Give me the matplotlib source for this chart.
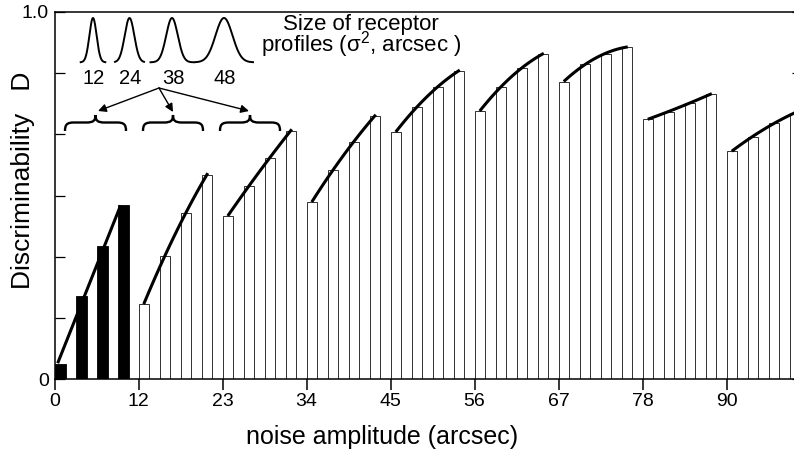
import numpy as np
import matplotlib
matplotlib.use('Agg')
import matplotlib.pyplot as plt
from matplotlib.path import Path
from matplotlib.patches import PathPatch

plt.rcParams['font.family'] = ['Liberation Sans', 'DejaVu Sans']

# Discriminability values, 4 bars per noise group
group_black = [0.041, 0.227, 0.362, 0.474]
group_12 = [0.204, 0.335, 0.452, 0.556]
group_23 = [0.444, 0.526, 0.602, 0.677]
group_34 = [0.482, 0.569, 0.646, 0.717]
group_45 = [0.673, 0.741, 0.796, 0.840]
group_56 = [0.730, 0.796, 0.847, 0.886]
group_67 = [0.810, 0.858, 0.886, 0.905]
group_78 = [0.708, 0.728, 0.753, 0.776]
group_90 = [0.621, 0.660, 0.697, 0.725]

x_tick_labels = ['0', '12', '23', '34', '45', '56', '67', '78', '90']
profile_sizes = [12, 24, 38, 48]

# layout (pixel coords of the inset drawing)
PROFILE_CENTERS = [93, 129.5, 172, 224]
PROFILE_SIGMA = [3.6, 4.8, 5.8, 8.5]
PROFILE_HALF = [12.3, 14.5, 21.5, 29]
BRACES = [(65, 126), (143, 203), (220, 280)]
ARROW_START = (159, 88)
ARROW_ENDS = [(98, 111), (173, 112), (249, 111)]

W, H = 794, 450


# Draw a curly brace opening downward, in pixel coordinates
def draw_brace(ax, x0, x1, y_end=131, y_mid=122.5, y_tip=115, r=9):
    xm = (x0 + x1) / 2
    verts = [
        (x0, y_end), (x0, y_mid + 2), (x0 + 2, y_mid), (x0 + r, y_mid),
        (xm - r, y_mid),
        (xm - 2, y_mid), (xm, y_mid - 2), (xm, y_tip),
        (xm, y_mid - 2), (xm + 2, y_mid), (xm + r, y_mid),
        (x1 - r, y_mid),
        (x1 - 2, y_mid), (x1, y_mid + 2), (x1, y_end),
    ]
    codes = [Path.MOVETO, Path.CURVE4, Path.CURVE4, Path.CURVE4,
             Path.LINETO,
             Path.CURVE4, Path.CURVE4, Path.CURVE4,
             Path.CURVE4, Path.CURVE4, Path.CURVE4,
             Path.LINETO,
             Path.CURVE4, Path.CURVE4, Path.CURVE4]
    ax.add_patch(PathPatch(Path(verts, codes), fill=False, lw=1.7,
                           color='black', capstyle='butt'))


def main():
    groups = [group_black, group_12, group_23, group_34, group_45,
              group_56, group_67, group_78, group_90]

    fig = plt.figure(figsize=(W / 100, H / 100), dpi=100)
    left, right, bottom, top = 54.5, 801.5, 379, 12
    ax = fig.add_axes([left / W, (H - bottom) / H, (right - left) / W, (bottom - top) / H])
    period = 21.0
    ax.set_xlim(0, (right - left) / period)
    ax.set_ylim(0, 1)

    for g, vals in enumerate(groups):
        x = 4 * g + np.arange(len(vals))
        if g == 0:
            ax.bar(x, vals, width=0.55, align='edge', color='black',
                   edgecolor='black', lw=0.6, zorder=2)
            coef = np.polyfit(x + 0.275, vals, 1)
            xs = np.linspace(x[0] + 0.15, x[-1] + 0.15, 50)
        else:
            ax.bar(x, vals, width=0.5, align='edge', color='white',
                   edgecolor='#222222', lw=0.65, zorder=2)
            coef = np.polyfit(x + 0.25, vals, 2)
            xs = np.linspace(x[0] + 0.25, x[-1] + 0.3, 50)
        ax.plot(xs, np.polyval(coef, xs), color='black', lw=2.2,
                solid_capstyle='butt', zorder=3)

    # axes styling
    for s in ax.spines.values():
        s.set_linewidth(1.1)
    ax.set_xticks(np.arange(len(x_tick_labels)) * 4)
    ax.set_xticklabels(x_tick_labels)
    yt = np.linspace(0, 1, 7)
    ax.set_yticks(yt)
    ax.set_yticklabels(['0', '', '', '', '', '', '1.0'])
    ax.tick_params(axis='x', direction='out', length=8, width=1.1, pad=2, labelsize=14)
    ax.tick_params(axis='y', direction='in', length=7, width=0.9, pad=4,
                   labelsize=14, right=True)

    # overlay in pixel coordinates for labels and inset
    ov = fig.add_axes([0, 0, 1, 1])
    ov.set_xlim(0, W)
    ov.set_ylim(H, 0)
    ov.axis('off')
    ov.patch.set_visible(False)

    ov.text(23, 180.5, 'Discriminability   D', rotation=90, ha='center',
            va='center', fontsize=19)
    ov.text(382.5, 437, 'noise amplitude (arcsec)', ha='center', va='center', fontsize=18)

    # receptor profiles
    base, peak = 62.3, 18
    for c, s, hw, size in zip(PROFILE_CENTERS, PROFILE_SIGMA, PROFILE_HALF, profile_sizes):
        px = np.linspace(c - hw, c + hw, 200)
        py = base - (base - peak) * np.exp(-0.5 * ((px - c) / s) ** 2)
        ov.plot(px, py, color='black', lw=1.4)
        ov.text(c + 1, 78, str(size), ha='center', va='center', fontsize=14.5)

    ov.text(361, 37, 'Size of receptor\n' + r'profiles ($\mathregular{\sigma^2}$, arcsec )',
            ha='center', va='center', multialignment='center', fontsize=16,
            linespacing=0.72)

    for x0, x1 in BRACES:
        draw_brace(ov, x0, x1)
    for end in ARROW_ENDS:
        ov.annotate('', xy=end, xytext=ARROW_START,
                    arrowprops=dict(arrowstyle='-|>', lw=1.0, color='black',
                                    mutation_scale=12, shrinkA=0, shrinkB=0))

    fig.savefig('out.png', dpi=100)
    plt.close(fig)


if __name__ == "__main__":
    main()
